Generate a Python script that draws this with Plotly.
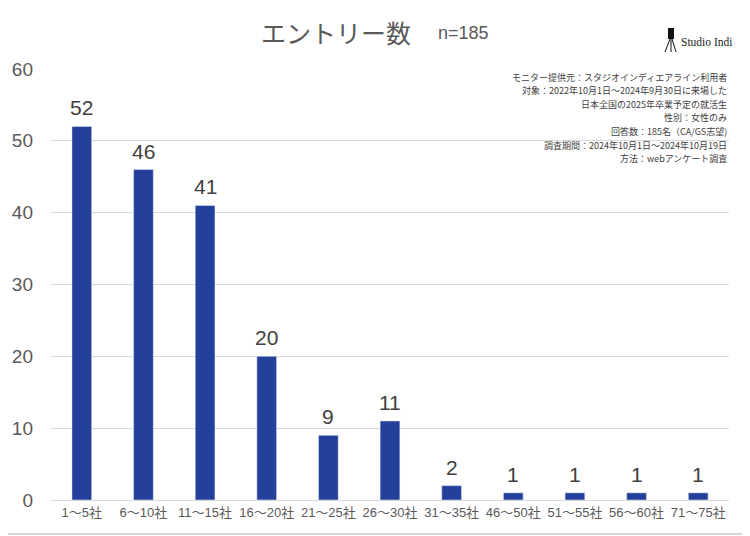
import plotly.graph_objects as go

categories = ["1～5社", "6～10社", "11～15社", "16～20社", "21～25社", "26～30社",
              "31～35社", "46～50社", "51～55社", "56～60社", "71～75社"]
values = [52, 46, 41, 20, 9, 11, 2, 1, 1, 1, 1]
y_ticks = [0, 10, 20, 30, 40, 50, 60]
notes = ["モニター提供元：スタジオインディエアライン利用者",
         "対象：2022年10月1日～2024年9月30日に来場した",
         "日本全国の2025年卒業予定の就活生",
         "性別：女性のみ",
         "回答数：185名（CA/GS志望)",
         "調査期間：2024年10月1日～2024年10月19日",
         "方法：webアンケート調査"]

# page body has an 8px default margin; the figure starts at (8, 8) of the window
OFF = 8
W, H = 750 - OFF, 536 - OFF
L, R, T, B = 51 - OFF, 21, 69 - OFF, 36
pw, ph = W - L - R, H - T - B

def px(x):  # window pixel -> paper
    return (x - OFF - L) / pw

def py(y):
    return (H + OFF - B - y) / ph

fig = go.Figure(go.Bar(
    x=categories, y=values,
    marker_color="#23409A",
    hoverinfo="x+y",
))

annotations = [
    dict(text="エントリー数", x=px(336), y=py(32), xref="paper", yref="paper",
         xanchor="center", yanchor="middle", showarrow=False,
         font=dict(size=25, color="#595959", family="Noto Sans CJK JP")),
    dict(text="n=185", x=px(436), y=py(33), xref="paper", yref="paper",
         xanchor="left", yanchor="middle", showarrow=False,
         font=dict(size=18, color="#595959", family="Arial, Liberation Sans")),
    dict(text="Studio Indi", x=px(679), y=py(42), xref="paper", yref="paper",
         xanchor="left", yanchor="middle", showarrow=False,
         font=dict(size=11.5, color="#222222", family="Liberation Serif")),
]
for c, v in zip(categories, values):
    annotations.append(dict(text=str(v), x=c, y=v, xref="x", yref="y",
                            xanchor="center", yanchor="bottom", yshift=5, showarrow=False,
                            font=dict(size=21, color="#404040", family="Arial, Liberation Sans")))
for i, line in enumerate(notes):
    annotations.append(dict(text=line, x=px(729), y=py(77 + i * 13.6), xref="paper", yref="paper",
                            xanchor="right", yanchor="middle", showarrow=False,
                            font=dict(size=9, color="#404040", family="Noto Sans CJK JP")))

shapes = [
    dict(type="rect", xref="paper", yref="paper", x0=px(1), x1=px(747), y0=py(534), y1=py(1),
         line=dict(color="#D4D4D4", width=2), layer="above"),
    # logo: camera on tripod
    dict(type="rect", xref="paper", yref="paper", x0=px(668), x1=px(674), y0=py(39), y1=py(28),
         fillcolor="#111111", line=dict(width=0)),
    dict(type="line", xref="paper", yref="paper", x0=px(670), x1=px(665), y0=py(39), y1=py(52),
         line=dict(color="#111111", width=1)),
    dict(type="line", xref="paper", yref="paper", x0=px(671), x1=px(671), y0=py(39), y1=py(52),
         line=dict(color="#111111", width=1)),
    dict(type="line", xref="paper", yref="paper", x0=px(672), x1=px(676), y0=py(39), y1=py(52),
         line=dict(color="#111111", width=1)),
]

fig.update_layout(
    width=W, height=H,
    margin=dict(l=L, r=R, t=T, b=B, autoexpand=False),
    paper_bgcolor="white", plot_bgcolor="white",
    bargap=0.68,
    showlegend=False,
    annotations=annotations,
    shapes=shapes,
    xaxis=dict(showgrid=False, showline=True, linecolor="#D9D9D9", linewidth=1,
               tickfont=dict(size=13, color="#595959", family="Arial, Noto Sans CJK JP"),
               ticks="", fixedrange=True, automargin=False),
    yaxis=dict(range=[0, 60], tickvals=y_ticks, showgrid=True, gridcolor="#D9D9D9",
               zeroline=False, showline=False, ticks="",
               tickfont=dict(size=19, color="#595959", family="Arial, Liberation Sans"),
               ticklabelstandoff=17, fixedrange=True, automargin=False),
)

fig.write_html("out.html")
